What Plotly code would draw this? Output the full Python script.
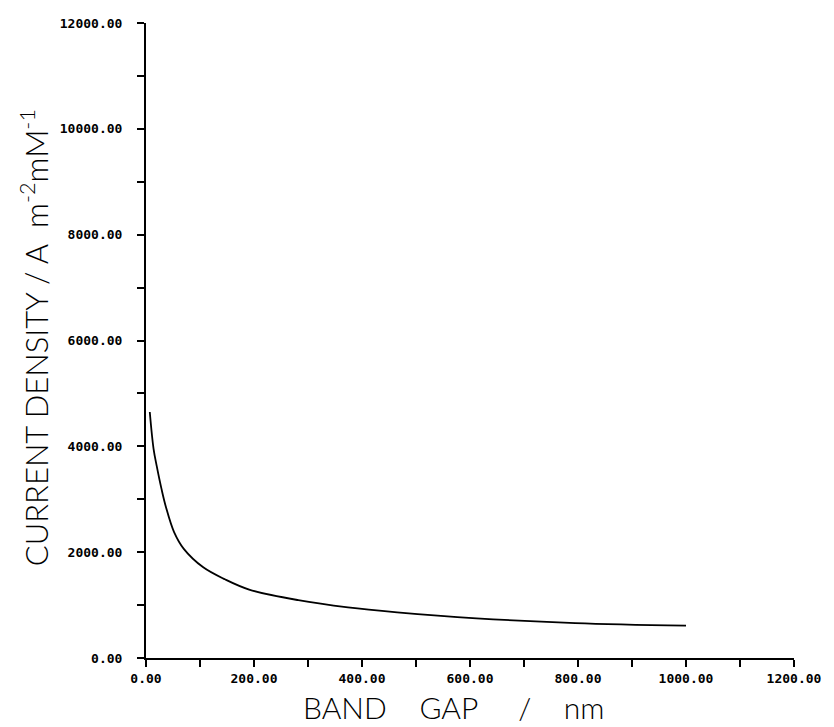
import plotly.graph_objects as go

# Current density versus band gap
band_gap_nm = [7, 14, 20, 28.6, 37, 52, 70, 106, 146, 191, 282, 374, 465, 612, 795, 1000]
current_density = [4648, 3953, 3620, 3200, 2850, 2379, 2062, 1713, 1487, 1293, 1093, 956, 863, 750, 660, 610]

x_ticks = [0, 200, 400, 600, 800, 1000, 1200]
y_ticks = [0, 2000, 4000, 6000, 8000, 10000, 12000]

tick_font = dict(family="DejaVu Sans Mono", size=13, color="black", weight="bold")
title_font = "Lato, Roboto, Liberation Sans"

NB = "\u00a0"

fig = go.Figure()
fig.add_trace(go.Scatter(
    x=band_gap_nm, y=current_density, mode="lines",
    line=dict(color="black", width=1.8, shape="spline", smoothing=1.0),
    showlegend=False, hoverinfo="skip",
))

fig.update_layout(
    width=834, height=727,
    margin=dict(l=146, r=32, t=23, b=69),
    paper_bgcolor="white", plot_bgcolor="white",
    xaxis=dict(
        range=[0, 1200], tickvals=x_ticks,
        ticktext=[f"{v:.2f}" for v in x_ticks],
        showgrid=False, zeroline=False,
        showline=True, linecolor="black", linewidth=2,
        ticks="outside", ticklen=7, tickwidth=1.5, tickcolor="black",
        minor=dict(dtick=100, ticks="outside", ticklen=7, tickwidth=1.5, tickcolor="black"),
        tickfont=tick_font, ticklabelstandoff=0,
    ),
    yaxis=dict(
        range=[0, 12000], tickvals=y_ticks,
        ticktext=[f"{v:.2f}" for v in y_ticks],
        showgrid=False, zeroline=False,
        showline=True, linecolor="black", linewidth=2,
        ticks="outside", ticklen=7, tickwidth=1.5, tickcolor="black",
        minor=dict(dtick=1000, ticks="outside", ticklen=7, tickwidth=1.5, tickcolor="black"),
        tickfont=tick_font, ticklabelstandoff=12,
    ),
    annotations=[
        dict(
            text=f"BAND{NB*4}GAP{NB*5}/{NB*4}nm",
            xref="paper", yref="paper", x=0.475, y=-0.1085,
            xanchor="center", yanchor="bottom", showarrow=False,
            font=dict(family=title_font, size=30, color="black", weight=300),
        ),
        dict(
            text=f"CURRENT DENSITY / A{NB*2}m<sup>-2</sup>mM<sup>-1</sup>",
            xref="paper", yref="paper", x=-0.173, y=0.505,
            xanchor="center", yanchor="middle", textangle=-90, showarrow=False,
            font=dict(family=title_font, size=31, color="black", weight=300),
        ),
    ],
)

fig.write_html("out.html")
